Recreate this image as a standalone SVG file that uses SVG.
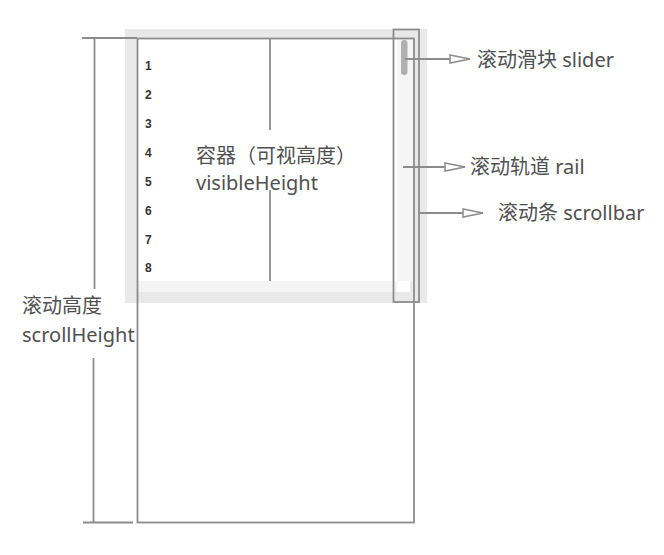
<svg xmlns="http://www.w3.org/2000/svg" width="664" height="555" viewBox="0 0 664 555">
<defs>
<style>
.ln{stroke:#8c8c8c;stroke-width:1.8;fill:none}
.lbl{font-family:"Noto Sans","Noto Sans CJK SC",sans-serif;font-size:20px;fill:#505050}
.num{font-family:"Liberation Sans",sans-serif;font-size:12px;font-weight:bold;fill:#333}
</style>
<marker id="arr" viewBox="0 0 22 10" refX="21" refY="5" markerWidth="22" markerHeight="10" markerUnits="userSpaceOnUse" orient="auto">
<path d="M1,1 L21,5 L1,9 Z" fill="#fff" stroke="#8c8c8c" stroke-width="1.5"/>
</marker>
</defs>
<rect width="664" height="555" fill="#fff"/>
<g id="container">
<rect x="125" y="29" width="302" height="274" fill="#e9e9e9"/>
<rect x="137" y="38" width="260" height="243" fill="#fff"/>
<rect x="137" y="281" width="260" height="11" fill="#f4f4f4"/>
<rect x="397" y="281" width="13" height="11" fill="#fff"/>
<g class="num">
<text x="145" y="70">1</text>
<text x="145" y="99">2</text>
<text x="145" y="128">3</text>
<text x="145" y="157">4</text>
<text x="145" y="186">5</text>
<text x="145" y="215">6</text>
<text x="145" y="244">7</text>
<text x="145" y="272">8</text>
</g>
</g>
<g id="rail">
<rect x="397" y="38" width="16" height="243" fill="#f5f5f5"/>
</g>
<g id="slider">
<rect x="401" y="40" width="6.5" height="35" rx="3.2" fill="#b0b0b0"/>
</g>
<g id="scroll-content">
<rect class="ln" x="137.5" y="38.5" width="276.5" height="484"/>
</g>
<g id="scrollbar">
<rect class="ln" x="393.5" y="29.5" width="25.5" height="272.5"/>
</g>
<g id="connectors">
<line class="ln" x1="270" y1="39" x2="270" y2="130"/>
<line class="ln" x1="270" y1="190" x2="270" y2="281"/>
<line class="ln" x1="82" y1="38" x2="137" y2="38"/>
<line class="ln" x1="94.5" y1="38" x2="94.5" y2="289"/>
<line class="ln" x1="93.5" y1="358" x2="93.5" y2="522"/>
<line class="ln" x1="83" y1="522.5" x2="133" y2="522.5"/>
<line class="ln" x1="405" y1="59" x2="470" y2="59" marker-end="url(#arr)"/>
<line class="ln" x1="403" y1="167" x2="465" y2="167" marker-end="url(#arr)"/>
<line class="ln" x1="419" y1="213" x2="483" y2="213" marker-end="url(#arr)"/>
</g>
<g id="labels">
<text class="lbl" x="196" y="163">容器（可视高度）</text>
<text class="lbl" x="196" y="190">visibleHeight</text>
<text class="lbl" x="22" y="313">滚动高度</text>
<text class="lbl" x="22" y="342">scrollHeight</text>
<text class="lbl" x="477" y="67">滚动滑块 slider</text>
<text class="lbl" x="470" y="174">滚动轨道 rail</text>
<text class="lbl" x="498" y="220">滚动条 scrollbar</text>
</g>
</svg>
